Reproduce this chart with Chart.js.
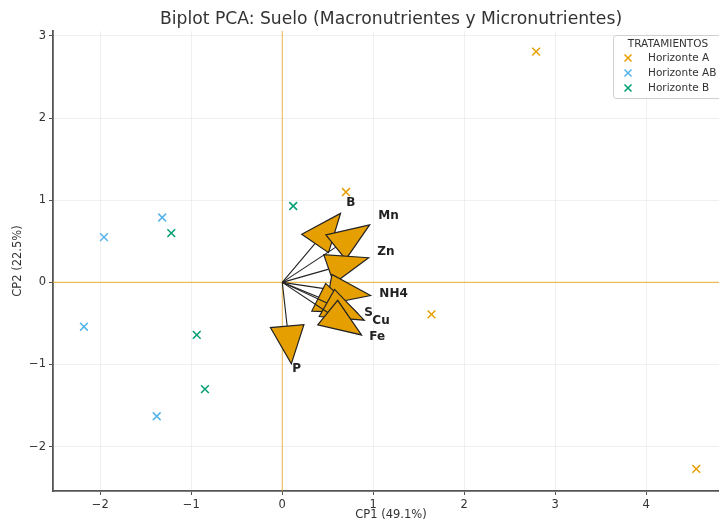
<!DOCTYPE html>
<html>
<head>
<meta charset="utf-8">
<script src="https://cdn.jsdelivr.net/npm/chart.js@4.4.1/dist/chart.umd.min.js"></script>
<style>
  html, body { margin: 0; padding: 0; background: #fff; overflow: hidden; }
  canvas { display: block; }
</style>
</head>
<body>
<canvas id="c" width="736" height="522" style="width:736px;height:522px"></canvas>
<script>
// ---- Data ----
const titleText = 'Biplot PCA: Suelo (Macronutrientes y Micronutrientes)';
const xLabel = 'CP1 (49.1%)';
const yLabel = 'CP2 (22.5%)';
const legendTitle = 'TRATAMIENTOS';

const groups = ['Horizonte A', 'Horizonte AB', 'Horizonte B'];
const groupColors = ['#E69F00', '#56B4E9', '#009E73'];

const horizonteA_x = [2.79, 0.70, 1.64, 4.55];
const horizonteA_y = [2.81, 1.10, -0.39, -2.27];
const horizonteAB_x = [-1.32, -1.96, -2.18, -1.38];
const horizonteAB_y = [0.79, 0.55, -0.54, -1.63];
const horizonteB_x = [0.12, -1.22, -0.94, -0.85];
const horizonteB_y = [0.93, 0.60, -0.64, -1.30];

// Loading arrows (tip positions in CP1/CP2 units)
const variables = ['P', 'B', 'Mn', 'Zn', 'NH4', 'S', 'Cu', 'Fe'];
const loadX = [0.10, 0.64, 0.96, 0.95, 0.97, 0.82, 0.90, 0.87];
const loadY = [-0.99, 0.84, 0.70, 0.30, -0.16, -0.37, -0.46, -0.64];

const xTicks = [-2, -1, 0, 1, 2, 3, 4];
const yTicks = [-2, -1, 0, 1, 2, 3];

// ---- Build chart ----
const FONT = "'DejaVu Sans', sans-serif";
const toPts = (xs, ys) => xs.map((x, i) => ({x: x, y: ys[i]}));
const seriesPts = [
  toPts(horizonteA_x, horizonteA_y),
  toPts(horizonteAB_x, horizonteAB_y),
  toPts(horizonteB_x, horizonteB_y)
];

const minus = v => String(v).replace('-', '\u2212');

const arrowPlugin = {
  id: 'arrows',
  beforeDatasetsDraw(chart) {
    const {ctx, chartArea: a, scales: {x, y}} = chart;
    ctx.save();
    ctx.strokeStyle = 'rgba(230,159,0,0.65)';
    ctx.lineWidth = 1.1;
    const px = x.getPixelForValue(0), py = y.getPixelForValue(0);
    ctx.beginPath();
    ctx.moveTo(px, a.top); ctx.lineTo(px, a.bottom);
    ctx.moveTo(a.left, py); ctx.lineTo(a.right, py);
    ctx.stroke();
    ctx.restore();
  },
  afterDatasetsDraw(chart) {
    const {ctx, scales: {x, y}} = chart;
    const HL = 0.46, HW = 0.37;
    ctx.save();
    const ox = x.getPixelForValue(0), oy = y.getPixelForValue(0);
    variables.forEach((name, i) => {
      const tx = loadX[i], ty = loadY[i];
      const len = Math.hypot(tx, ty);
      const ux = tx / len, uy = ty / len;
      const bx = tx - ux * HL, by = ty - uy * HL;
      const c1x = bx - uy * HW / 2, c1y = by + ux * HW / 2;
      const c2x = bx + uy * HW / 2, c2y = by - ux * HW / 2;
      ctx.beginPath();
      ctx.strokeStyle = '#222';
      ctx.lineWidth = 1.1;
      ctx.moveTo(ox, oy);
      ctx.lineTo(x.getPixelForValue(bx), y.getPixelForValue(by));
      ctx.stroke();
      ctx.beginPath();
      ctx.moveTo(x.getPixelForValue(tx), y.getPixelForValue(ty));
      ctx.lineTo(x.getPixelForValue(c1x), y.getPixelForValue(c1y));
      ctx.lineTo(x.getPixelForValue(c2x), y.getPixelForValue(c2y));
      ctx.closePath();
      ctx.fillStyle = '#E69F00';
      ctx.fill();
      ctx.lineWidth = 1.2;
      ctx.strokeStyle = '#222';
      ctx.stroke();
    });
    ctx.font = "bold 12px " + FONT;
    ctx.fillStyle = '#222';
    ctx.textAlign = 'left';
    ctx.textBaseline = 'alphabetic';
    variables.forEach((name, i) => {
      ctx.fillText(name, x.getPixelForValue(loadX[i] * 1.1), y.getPixelForValue(loadY[i] * 1.1));
    });
    ctx.restore();
  },
  afterDraw(chart) {
    const {ctx} = chart;
    ctx.save();
    const bx = 613, by = 35, bw = 111, bh = 63;
    ctx.beginPath();
    ctx.roundRect(bx + 0.5, by + 0.5, bw, bh, 3);
    ctx.fillStyle = 'rgba(255,255,255,0.85)';
    ctx.fill();
    ctx.strokeStyle = '#d0d0d0';
    ctx.lineWidth = 1;
    ctx.stroke();
    ctx.fillStyle = '#333';
    ctx.font = "10.5px " + FONT;
    ctx.textAlign = 'center';
    ctx.textBaseline = 'middle';
    ctx.fillText(legendTitle, 668, by + 9);
    ctx.textAlign = 'left';
    chart.data.datasets.forEach((ds, i) => {
      const yy = by + 23 + i * 15;
      const mx = 628;
      ctx.strokeStyle = ds.borderColor;
      ctx.lineWidth = 1.5;
      ctx.beginPath();
      ctx.moveTo(mx - 3.5, yy - 3.5); ctx.lineTo(mx + 3.5, yy + 3.5);
      ctx.moveTo(mx - 3.5, yy + 3.5); ctx.lineTo(mx + 3.5, yy - 3.5);
      ctx.stroke();
      ctx.fillStyle = '#333';
      ctx.fillText(ds.label, 648, yy);
    });
    ctx.restore();
  }
};

new Chart(document.getElementById('c'), {
  type: 'scatter',
  data: {
    datasets: groups.map((g, i) => ({
      label: g,
      data: seriesPts[i],
      pointStyle: 'crossRot',
      radius: 5.5,
      hoverRadius: 5.5,
      borderWidth: 1.5,
      borderColor: groupColors[i],
      backgroundColor: groupColors[i]
    }))
  },
  options: {
    responsive: false,
    animation: false,
    devicePixelRatio: 1,
    layout: { padding: 0 },
    plugins: {
      legend: { display: false },
      tooltip: { enabled: false },
      title: {
        display: true,
        text: titleText,
        fullSize: false,
        color: '#333',
        font: { family: FONT, size: 17.2, weight: 'normal', lineHeight: 1.2 },
        padding: { top: 9.5, bottom: 0.9 }
      }
    },
    scales: {
      x: {
        type: 'linear',
        min: -2.52,
        max: 4.91,
        afterBuildTicks: s => { s.ticks = xTicks.map(v => ({value: v})); },
        afterFit: s => { s.height = 31; },
        ticks: {
          color: '#333',
          font: { family: FONT, size: 11.5 },
          padding: 3,
          maxRotation: 0,
          callback: v => minus(v)
        },
        grid: { color: '#ececec', lineWidth: 0.8, tickLength: 4, tickColor: '#555', tickWidth: 1 },
        border: { display: true, color: '#555', width: 1.8 },
        title: { display: true, text: xLabel, color: '#333', font: { family: FONT, size: 11.5 }, padding: { top: 1, bottom: 0 } }
      },
      y: {
        type: 'linear',
        min: -2.54,
        max: 3.06,
        afterBuildTicks: s => { s.ticks = yTicks.map(v => ({value: v})); },
        afterFit: s => { s.width = 53; },
        ticks: {
          color: '#333',
          font: { family: FONT, size: 11.5 },
          padding: 3,
          callback: v => minus(v)
        },
        grid: { color: '#ececec', lineWidth: 0.8, tickLength: 4, tickColor: '#555', tickWidth: 1 },
        border: { display: true, color: '#555', width: 1.8 },
        title: { display: true, text: yLabel, color: '#333', font: { family: FONT, size: 11.5 }, padding: { top: 11, bottom: 0 } }
      }
    }
  },
  plugins: [arrowPlugin]
});
</script>
</body>
</html>
